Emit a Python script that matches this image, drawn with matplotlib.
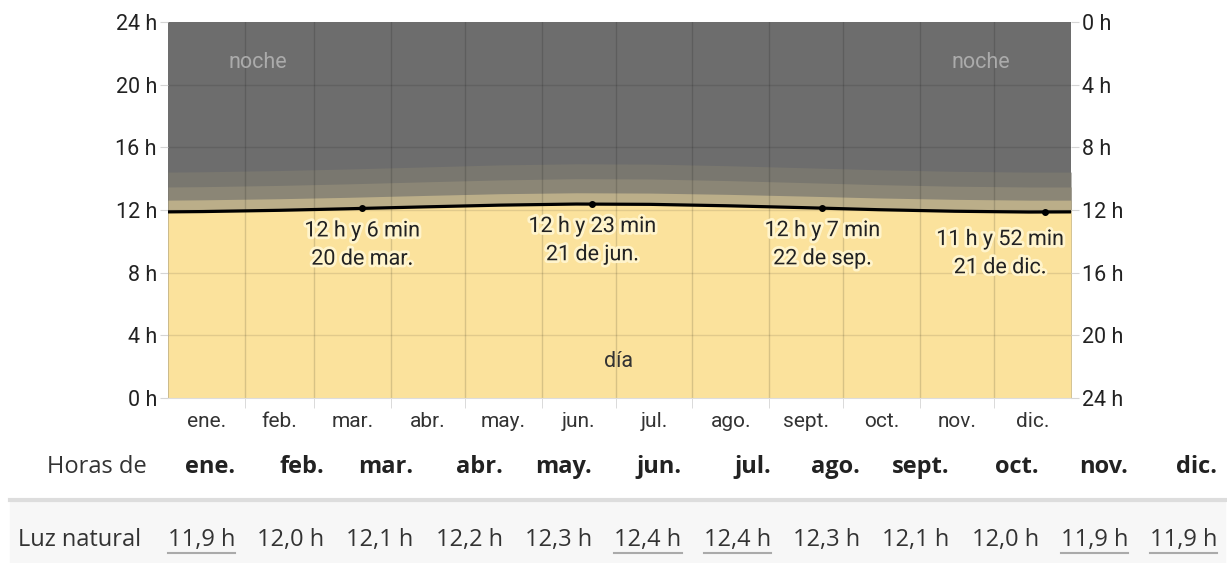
import matplotlib
matplotlib.use('Agg')
import matplotlib.pyplot as plt
import matplotlib.patheffects as pe
from matplotlib.patches import Rectangle
from matplotlib.lines import Line2D

plt.rcParams['font.family'] = ['Roboto', 'DejaVu Sans']

# day of year where each month starts (and the end of the year)
month_starts = [0, 31, 59, 90, 120, 151, 181, 212, 243, 273, 304, 334, 365]
month_labels = ['ene.', 'feb.', 'mar.', 'abr.', 'may.', 'jun.',
                'jul.', 'ago.', 'sept.', 'oct.', 'nov.', 'dic.']

# samples: day of year -> hours
days = [0, 14, 45, 73, 104, 134, 165, 195, 226, 257, 287, 318, 348, 365]
daylight = [11.88, 11.90, 11.98, 12.08, 12.20, 12.31, 12.38,
            12.36, 12.27, 12.15, 12.02, 11.92, 11.87, 11.88]
civil = [12.63, 12.65, 12.72, 12.81, 12.93, 13.04, 13.10,
         13.08, 13.00, 12.89, 12.77, 12.68, 12.63, 12.63]
nautical = [13.47, 13.49, 13.57, 13.67, 13.80, 13.92, 14.00,
            13.98, 13.88, 13.75, 13.62, 13.52, 13.47, 13.47]
astro = [14.42, 14.44, 14.52, 14.62, 14.75, 14.88, 14.95,
         14.93, 14.83, 14.70, 14.57, 14.47, 14.42, 14.42]

# key dates marked on the line
key_days = [78.5, 171.5, 264.5, 354.5]
key_hours = [12.10, 12.38, 12.12, 11.87]
key_text = ['12 h y 6 min\n20 de mar.', '12 h y 23 min\n21 de jun.',
            '12 h y 7 min\n22 de sep.', '11 h y 52 min\n21 de dic.']

# table below the chart
table_months = ['ene.', 'feb.', 'mar.', 'abr.', 'may.', 'jun.',
                'jul.', 'ago.', 'sept.', 'oct.', 'nov.', 'dic.']
table_values = ['11,9 h', '12,0 h', '12,1 h', '12,2 h', '12,3 h', '12,4 h',
                '12,4 h', '12,3 h', '12,1 h', '12,0 h', '11,9 h', '11,9 h']
underlined = [True, False, False, False, False, True,
              True, False, False, False, True, True]

W, H = 1227, 563
fig = plt.figure(figsize=(W / 100, H / 100), dpi=100)
ax = fig.add_axes([168 / W, 1 - 398 / H, (1071 - 168) / W, (398 - 22) / H])

# stacked from the back so no seams show between bands
ax.fill_between(days, 0, 24, color='#6d6d6d', lw=0)
ax.fill_between(days, 0, astro, color='#79776f', lw=0)
ax.fill_between(days, 0, nautical, color='#8b8676', lw=0)
ax.fill_between(days, 0, civil, color='#bbae89', lw=0)
ax.fill_between(days, 0, daylight, color='#fbe29c', lw=0)

for d in month_starts[1:-1]:
    ax.axvline(d, color='black', alpha=0.14, lw=1, zorder=2)
for h in range(4, 24, 4):
    ax.axhline(h, color='black', alpha=0.1, lw=1, zorder=2)

ax.plot(days, daylight, color='black', lw=2.3, zorder=3)
ax.plot(key_days, key_hours, 'o', color='black', ms=4, zorder=4)

halo = [pe.withStroke(linewidth=4, foreground='#fff4cc')]
offsets = [(0, 0), (0, 0), (0, 0), (-45, -5)]
for d, h, t, off in zip(key_days, key_hours, key_text, offsets):
    ax.annotate(t, (d, h), xytext=(off[0], -12 + off[1]), textcoords='offset pixels',
                ha='center', va='top', fontsize=15.5, color='#222222',
                linespacing=1.45, path_effects=halo, zorder=5)

ax.text(36.4, 21.4, 'noche', ha='center', va='center', fontsize=15.5, color='#ababab')
ax.text(328.6, 21.4, 'noche', ha='center', va='center', fontsize=15.5, color='#ababab')
ax.text(182.3, 2.3, 'día', ha='center', va='center', fontsize=15.5, color='#333333')

ax.set_xlim(0, 365)
ax.set_ylim(0, 24)
centers = [(month_starts[i] + month_starts[i + 1]) / 2 for i in range(12)]
ax.set_xticks(centers)
ax.set_xticklabels(month_labels)
ax.set_xticks(month_starts[1:-1], minor=True)
ax.tick_params(axis='x', which='major', length=0, pad=10, labelsize=15, labelcolor='#333333')
ax.tick_params(axis='x', which='minor', length=7, color='#d5d5d5')
ax.set_yticks(range(0, 25, 4))
ax.set_yticklabels(['%d h' % h for h in range(0, 25, 4)])
ax.tick_params(axis='y', length=6, color='#d5d5d5', pad=2, labelsize=15.5, labelcolor='#222222')
for s in ['left', 'right', 'top']:
    ax.spines[s].set_visible(False)
ax.spines['bottom'].set_color('#dddddd')

ax2 = ax.twinx()
ax2.set_ylim(24, 0)
ax2.set_yticks(range(0, 25, 4))
ax2.set_yticklabels(['%d h' % h for h in range(0, 25, 4)])
ax2.tick_params(axis='y', length=6, color='#d5d5d5', pad=2, labelsize=15.5, labelcolor='#222222')
for s in ax2.spines.values():
    s.set_visible(False)

# table
def px(x, y):
    return x / W, 1 - y / H

fig.patches.append(Rectangle(px(10, 563), 1215 / W, 61 / H, transform=fig.transFigure,
                             color='#f7f7f7', zorder=0))
fig.lines.append(Line2D([10 / W, 1225 / W], [1 - 500 / H] * 2, transform=fig.transFigure,
                        color='#dddddd', lw=3))

tfont = ['Open Sans', 'DejaVu Sans']
fig.text(*px(147, 467), 'Horas de', ha='right', va='center', fontsize=17,
         color='#333333', family=tfont)
fig.text(*px(18, 540), 'Luz natural', ha='left', va='center', fontsize=17,
         color='#333333', family=tfont)
right_edges = [235 + 89.3 * i for i in range(12)]
value_texts = []
for x, m, v in zip(right_edges, table_months, table_values):
    fig.text(*px(x, 467), m, ha='right', va='center', fontsize=17, fontweight='bold',
             color='#222222', family=tfont)
    value_texts.append(fig.text(*px(x, 540), v, ha='right', va='center', fontsize=17,
                                color='#333333', family=tfont))

r = fig.canvas.get_renderer()
for t, u in zip(value_texts, underlined):
    if u:
        bb = t.get_window_extent(r)
        y = 1 - 553 / H
        fig.lines.append(Line2D([bb.x0 / W, bb.x1 / W], [y, y], transform=fig.transFigure,
                                color='#aaaaaa', lw=1.5))

fig.savefig('out.png', dpi=100)
